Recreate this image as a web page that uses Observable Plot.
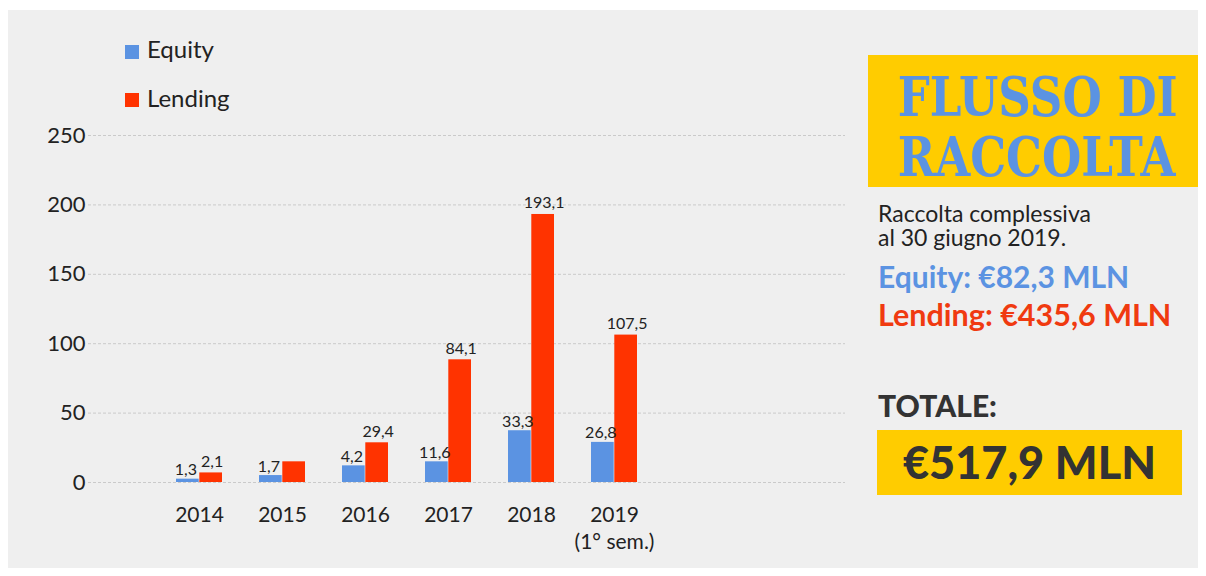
<!DOCTYPE html>
<html><head><meta charset="utf-8">
<script src="https://cdn.jsdelivr.net/npm/d3@7"></script>
<script src="https://cdn.jsdelivr.net/npm/@observablehq/plot@0.6"></script>
<style>
body{margin:0;background:#fff;width:1206px;height:576px;overflow:hidden;font-family:Lato,sans-serif;position:relative;}
#panel{position:absolute;left:8px;top:10px;width:1190px;height:558px;background:#efefef;}
#chart{position:absolute;left:0;top:0;}
.abs{position:absolute;white-space:nowrap;line-height:1;}
.sq{position:absolute;width:14px;height:14px;}
.title{position:absolute;left:868px;width:330px;text-align:center;white-space:nowrap;font-family:"DejaVu Serif",serif;font-weight:bold;font-size:55px;line-height:1;color:#5b93e2;transform:scaleX(0.82);transform-origin:center;}
</style>
</head><body>
<div id="panel"></div>
<div id="chart"></div>
<div class="sq" id="sqE" style="left:125px;top:45px;"></div>
<div class="abs" id="lgE" style="left:147px;top:36.7px;font-size:24px;color:#222;"></div>
<div class="sq" id="sqL" style="left:125px;top:93px;"></div>
<div class="abs" id="lgL" style="left:147px;top:85.7px;font-size:24px;color:#222;"></div>
<div style="position:absolute;left:868px;top:55px;width:330px;height:132px;background:#ffcc00;"></div>
<div class="title" id="t1" style="top:68.5px;"></div>
<div class="title" id="t2" style="top:128.5px;"></div>
<div class="abs" id="s1" style="left:878px;top:201px;font-size:23px;line-height:24.3px;white-space:pre;color:#222;"></div>
<div class="abs" id="s3" style="left:878px;top:260.7px;font-size:30px;font-weight:bold;color:#5b93e2;"></div>
<div class="abs" id="s4" style="left:878px;top:299.4px;font-size:30.5px;font-weight:bold;color:#f03a10;"></div>
<div class="abs" id="s5" style="left:878px;top:390px;font-size:30px;font-weight:900;color:#333;"></div>
<div style="position:absolute;left:877px;top:430px;width:305px;height:65px;background:#ffcc00;"></div>
<div class="abs" id="s6" style="left:877px;width:305px;text-align:center;top:440px;font-size:45px;font-weight:900;color:#333;"></div>
<script>
const years = ["2014", "2015", "2016", "2017", "2018", "2019"];
const yearLabels = ["2014", "2015", "2016", "2017", "2018", "2019\n(1° sem.)"];
const equity = [2.4, 5.0, 12.0, 14.9, 37.3, 28.9];
const lending = [6.9, 14.9, 28.6, 88.4, 193.1, 106.2];
const equityLabels = ["1,3", "1,7", "4,2", "11,6", "33,3", "26,8"];
const lendingLabels = ["2,1", "", "29,4", "84,1", "193,1", "107,5"];
const yTicks = [0, 50, 100, 150, 200, 250];
const seriesNames = ["Equity", "Lending"];
const seriesColors = ["#5b93e2", "#ff3300"];
const titleLines = ["FLUSSO DI", "RACCOLTA"];
const sideTexts = ["Raccolta complessiva\nal 30 giugno 2019.", "Equity: €82,3 MLN", "Lending: €435,6 MLN", "TOTALE:", "€517,9 MLN"];

const eqRows = years.map((y, i) => ({year: y, value: equity[i], label: equityLabels[i]}));
const lnRows = years.map((y, i) => ({year: y, value: lending[i], label: lendingLabels[i]}));

const half = 23.3;
const plot = Plot.plot({
  width: 860,
  height: 560,
  marginLeft: 88,
  marginRight: 15,
  marginTop: 135,
  marginBottom: 78,
  style: {background: "transparent", fontFamily: "Lato, sans-serif", fontSize: "21px", color: "#222"},
  x: {domain: years, range: [156.3, 656.3], paddingInner: 0.44, paddingOuter: 0.22},
  y: {domain: [0, 250]},
  marks: [
    Plot.ruleY(yTicks, {stroke: "#cacaca", strokeDasharray: "3,2", strokeWidth: 1}),
    Plot.barY(eqRows, {x: "year", y: "value", fill: seriesColors[0], insetRight: half}),
    Plot.barY(lnRows, {x: "year", y: "value", fill: seriesColors[1], insetLeft: half}),
    Plot.text(eqRows, {x: "year", y: "value", text: "label", dx: -half / 2 - 2, dy: -4, lineAnchor: "bottom", fontSize: 16, fill: "#222"}),
    Plot.text(lnRows, {x: "year", y: "value", text: "label", dx: half / 2 + 1, dy: -6, lineAnchor: "bottom", fontSize: 16, fill: "#222"}),
    Plot.axisY(yTicks, {tickSize: 0, tickPadding: 3, fontSize: 22, fill: "#222", label: null}),
    Plot.axisX({tickSize: 0, tickPadding: 20, fontSize: 21, fill: "#222", lineHeight: 1.3, label: null,
      tickFormat: d => yearLabels[years.indexOf(d)]})
  ]
});
document.getElementById("chart").appendChild(plot);

document.getElementById("sqE").style.background = seriesColors[0];
document.getElementById("sqL").style.background = seriesColors[1];
document.getElementById("lgE").textContent = seriesNames[0];
document.getElementById("lgL").textContent = seriesNames[1];
document.getElementById("t1").textContent = titleLines[0];
document.getElementById("t2").textContent = titleLines[1];
["s1","s3","s4","s5","s6"].forEach((id, i) => document.getElementById(id).textContent = sideTexts[i]);
</script>
</body></html>
